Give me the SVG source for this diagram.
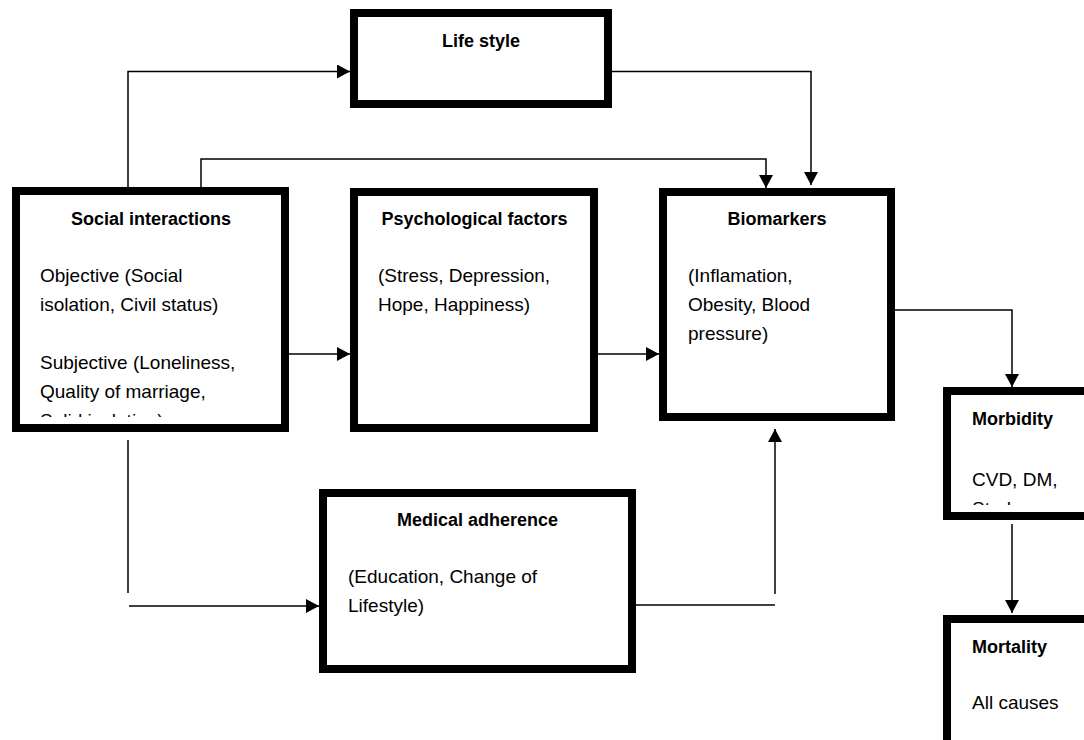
<svg xmlns="http://www.w3.org/2000/svg" width="1084" height="740" viewBox="0 0 1084 740">
  <style>
    .box { fill: #fff; stroke: #000; stroke-width: 8; }
    .t { font-family: "Liberation Sans", Arial, sans-serif; font-size: 19px; fill: #000; }
    .h { font-family: "Liberation Sans", Arial, sans-serif; font-size: 18px; font-weight: bold; fill: #000; text-anchor: middle; }
    .hl { font-family: "Liberation Sans", Arial, sans-serif; font-size: 18px; font-weight: bold; fill: #000; }
    .c { fill: none; stroke: #000; stroke-width: 1.5; }
  </style>
  <defs>
    <marker id="arr" viewBox="0 0 13 14" refX="13" refY="7" markerWidth="13" markerHeight="14" markerUnits="userSpaceOnUse" orient="auto">
      <path d="M0,0 L13,7 L0,14 Z" fill="#000"/>
    </marker>
    <clipPath id="clipSocial"><rect x="20" y="195" width="262" height="222"/></clipPath>
    <clipPath id="clipMorb"><rect x="951" y="395" width="140" height="110"/></clipPath>
  </defs>
  <rect width="1084" height="740" fill="#fff"/>

  <g id="connectors">
    <path class="c" d="M128,187 V71.5 H350" marker-end="url(#arr)"/>
    <path class="c" d="M201,187 V159 H766 V188" marker-end="url(#arr)"/>
    <path class="c" d="M612,71.5 H811 V185" marker-end="url(#arr)"/>
    <path class="c" d="M289,354 H350" marker-end="url(#arr)"/>
    <path class="c" d="M598,354 H659" marker-end="url(#arr)"/>
    <path class="c" d="M128,440 V593"/>
    <path class="c" d="M129,606 H319" marker-end="url(#arr)"/>
    <path class="c" d="M636,605 H775"/>
    <path class="c" d="M775,594 V429" marker-end="url(#arr)"/>
    <path class="c" d="M895,310 H1012 V387" marker-end="url(#arr)"/>
    <path class="c" d="M1012,524 V613" marker-end="url(#arr)"/>
  </g>

  <g id="lifestyle">
    <rect class="box" x="354" y="13" width="254" height="91"/>
    <text class="h" x="481" y="47">Life style</text>
  </g>

  <g id="social">
    <rect class="box" x="16" y="191" width="269" height="237"/>
    <text class="h" x="151" y="225">Social interactions</text>
    <g clip-path="url(#clipSocial)">
      <text class="t" x="40" y="282">Objective (Social</text>
      <text class="t" x="40" y="311">isolation, Civil status)</text>
      <text class="t" x="40" y="369">Subjective (Loneliness,</text>
      <text class="t" x="40" y="398">Quality of marriage,</text>
      <text class="t" x="40" y="427">Solid isolation)</text>
    </g>
  </g>

  <g id="psych">
    <rect class="box" x="354" y="192" width="240" height="236"/>
    <text class="h" x="474.5" y="225">Psychological factors</text>
    <text class="t" x="378" y="282">(Stress, Depression,</text>
    <text class="t" x="378" y="311">Hope, Happiness)</text>
  </g>

  <g id="biomarkers">
    <rect class="box" x="663" y="192" width="228" height="225"/>
    <text class="h" x="777" y="225">Biomarkers</text>
    <text class="t" x="688" y="282">(Inflamation,</text>
    <text class="t" x="688" y="311">Obesity, Blood</text>
    <text class="t" x="688" y="340">pressure)</text>
  </g>

  <g id="medical">
    <rect class="box" x="323" y="493" width="309" height="176"/>
    <text class="h" x="477.5" y="526">Medical adherence</text>
    <text class="t" x="348" y="583">(Education, Change of</text>
    <text class="t" x="348" y="612">Lifestyle)</text>
  </g>

  <g id="morbidity">
    <rect class="box" x="947" y="391" width="200" height="125"/>
    <text class="hl" x="972" y="425">Morbidity</text>
    <g clip-path="url(#clipMorb)">
      <text class="t" x="972" y="486">CVD, DM,</text>
      <text class="t" x="972" y="515">Stroke</text>
    </g>
  </g>

  <g id="mortality">
    <rect class="box" x="947" y="619" width="200" height="130"/>
    <text class="hl" x="972" y="653">Mortality</text>
    <text class="t" x="972" y="709">All causes</text>
  </g>
</svg>
